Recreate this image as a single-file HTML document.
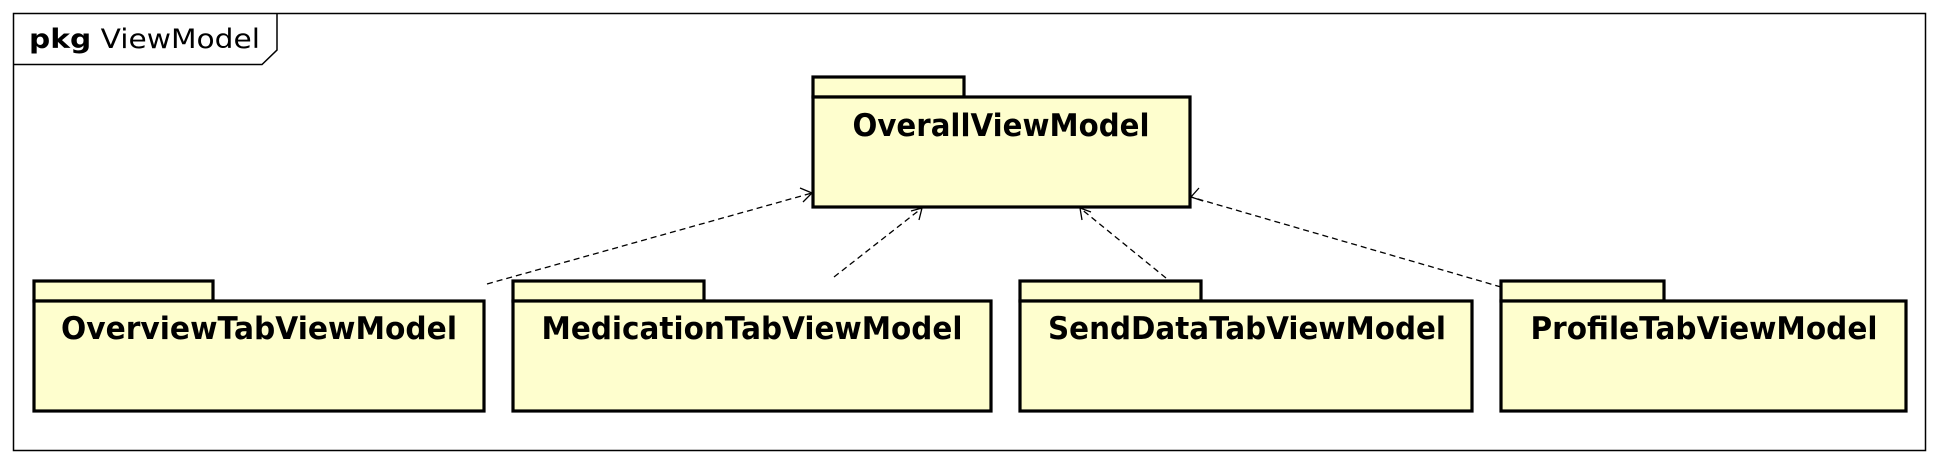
<!DOCTYPE html>
<html><head><meta charset="utf-8"><style>html,body{margin:0;padding:0;background:#fff}svg{display:block}</style></head>
<body>
<svg width="1938" height="464" viewBox="0 0 1938 464" xmlns="http://www.w3.org/2000/svg">
<rect x="13.5" y="13.5" width="1912" height="437" fill="none" stroke="#000" stroke-width="1.5"/>
<polyline points="13.5,64.5 262,64.5 277,50 277,13.5" fill="none" stroke="#000" stroke-width="1.5"/>
<text x="29" y="48" font-family="DejaVu Sans, sans-serif" font-size="27" textLength="231" lengthAdjust="spacingAndGlyphs"><tspan font-weight="bold">pkg</tspan> ViewModel</text>
<g fill="#FEFECE" stroke="#000" stroke-width="3.2">
<rect x="813" y="77" width="151" height="20"/><rect x="813" y="97" width="377" height="110"/>
<rect x="34" y="281" width="179" height="20"/><rect x="34" y="301" width="450" height="110"/>
<rect x="513" y="281" width="191" height="20"/><rect x="513" y="301" width="478" height="110"/>
<rect x="1020" y="281" width="181" height="20"/><rect x="1020" y="301" width="452" height="110"/>
<rect x="1501" y="281" width="163" height="20"/><rect x="1501" y="301" width="405" height="110"/>
</g>
<g font-family="DejaVu Sans, sans-serif" font-weight="bold" font-size="31" text-anchor="middle">
<text x="1001" y="136" textLength="297" lengthAdjust="spacingAndGlyphs">OverallViewModel</text>
<text x="259" y="339" textLength="396" lengthAdjust="spacingAndGlyphs">OverviewTabViewModel</text>
<text x="752" y="339" textLength="421" lengthAdjust="spacingAndGlyphs">MedicationTabViewModel</text>
<text x="1247" y="339" textLength="398" lengthAdjust="spacingAndGlyphs">SendDataTabViewModel</text>
<text x="1704" y="339" textLength="347" lengthAdjust="spacingAndGlyphs">ProfileTabViewModel</text>
</g>
<g fill="none" stroke="#000" stroke-width="1.3">
<g stroke-dasharray="6,4">
<line x1="487" y1="284" x2="812" y2="193"/>
<line x1="834" y1="277" x2="922" y2="208"/>
<line x1="1166" y1="278" x2="1080" y2="208"/>
<line x1="1501" y1="287" x2="1191" y2="197"/>
</g>
<polyline points="800,188 812,193 803,202"/>
<polyline points="911,211 922,208 919,220"/>
<polyline points="1082,220 1080,208 1091,212"/>
<polyline points="1199,188 1191,197 1203,201"/>
</g>
</svg>
</body></html>
